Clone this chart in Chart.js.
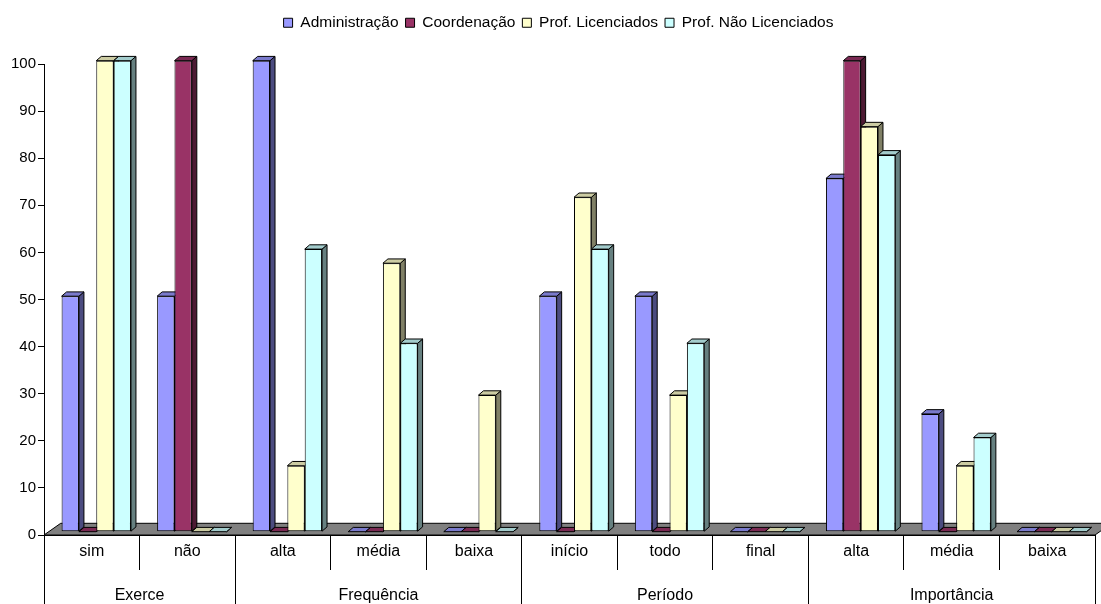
<!DOCTYPE html>
<html>
<head>
<meta charset="utf-8">
<script src="https://cdn.jsdelivr.net/npm/chart.js@4.4.1/dist/chart.umd.min.js"></script>
<style>
  html, body { margin: 0; padding: 0; background: #fff; }
  #wrap { width: 1101px; height: 604px; position: relative; }
</style>
</head>
<body>
<div id="wrap"><canvas id="chart"></canvas></div>
<script>
// Survey answers (%) per category, one array per respondent group
const categories = ['sim', 'não', 'alta', 'média', 'baixa', 'início', 'todo', 'final', 'alta', 'média', 'baixa'];
const groupNames = ['Exerce', 'Frequência', 'Período', 'Importância'];
const groupSizes = [2, 3, 3, 3];
const seriesNames = ['Administração', 'Coordenação', 'Prof. Licenciados', 'Prof. Não Licenciados'];
const administracao = [50, 50, 100, 0, 0, 50, 50, 0, 75, 25, 0];
const coordenacao   = [0, 100, 0, 0, 0, 0, 0, 0, 100, 0, 0];
const licenciados   = [100, 0, 14, 57, 29, 71, 29, 0, 86, 14, 0];
const naoLicenciados = [100, 0, 60, 40, 0, 60, 40, 0, 80, 20, 0];
const yMin = 0, yMax = 100, yStep = 10;

// Colours: front face, top face, side face
const frontColors = ['#9999FF', '#993366', '#FFFFCC', '#CCFFFF'];
const topColors   = ['#7A7ACC', '#7A2952', '#CCCCA3', '#A3CCCC'];
const sideColors  = ['#4C4C80', '#4D1A33', '#808066', '#668080'];

// Group boundaries and centres along the category axis
const groupBounds = [0];
groupSizes.forEach(n => groupBounds.push(groupBounds[groupBounds.length - 1] + n));
const groupCenters = groupSizes.map((n, i) => groupBounds[i] + n / 2);

// Pseudo-3D geometry
const FLOOR_DX = 16.7, FLOOR_DY = -11.7;    // depth of the floor
const BAR_SHIFT_X = 4.5, BAR_SHIFT_Y = -3.3; // columns sit a little back on the floor
const DEPTH_DX = 5, DEPTH_DY = -4.3;        // depth of each column
const LEGEND_SHIFT_X = 11, LEGEND_SHIFT_Y = 8;

function poly(ctx, pts, fill) {
  ctx.beginPath();
  ctx.moveTo(pts[0][0], pts[0][1]);
  for (let k = 1; k < pts.length; k++) ctx.lineTo(pts[k][0], pts[k][1]);
  ctx.closePath();
  ctx.fillStyle = fill;
  ctx.fill();
  ctx.stroke();
}

const depth3d = {
  id: 'depth3d',
  beforeInit(chart) {
    const fit = chart.legend.fit;
    chart.legend.fit = function () { fit.call(this); this.height = 64; };
  },
  afterLayout(chart) {
    const lg = chart.legend;
    lg.left += LEGEND_SHIFT_X; lg.right += LEGEND_SHIFT_X;
    lg.top += LEGEND_SHIFT_Y; lg.bottom += LEGEND_SHIFT_Y;
  },
  beforeDatasetsDraw(chart) {
    const { ctx } = chart;
    const xs = chart.scales.x, ys = chart.scales.y;
    const y0 = ys.getPixelForValue(0);
    ctx.save();
    ctx.strokeStyle = '#000';
    ctx.lineWidth = 1;
    poly(ctx, [[xs.left, y0], [xs.right, y0], [xs.right + FLOOR_DX, y0 + FLOOR_DY], [xs.left + FLOOR_DX, y0 + FLOOR_DY]], '#808080');
    ctx.restore();

    ctx.save();
    ctx.translate(BAR_SHIFT_X, BAR_SHIFT_Y);
    ctx.strokeStyle = '#000';
    ctx.lineWidth = 1;
    const metas = chart.data.datasets.map((d, i) => chart.getDatasetMeta(i));
    for (let j = 0; j < categories.length; j++) {
      metas.forEach((meta, i) => {
        const bar = meta.data[j];
        if (!bar) return;
        const p = bar.getProps(['x', 'y', 'base', 'width'], true);
        const l = p.x - p.width / 2, r = p.x + p.width / 2;
        const top = Math.min(p.y, p.base), base = Math.max(p.y, p.base);
        poly(ctx, [[r, top], [r + DEPTH_DX, top + DEPTH_DY], [r + DEPTH_DX, base + DEPTH_DY], [r, base]], sideColors[i]);
        poly(ctx, [[l, top], [l + DEPTH_DX, top + DEPTH_DY], [r + DEPTH_DX, top + DEPTH_DY], [r, top]], topColors[i]);
      });
    }
    // the translation stays active while the library draws the front faces
  },
  afterDatasetsDraw(chart) {
    chart.ctx.restore();
  }
};

const seriesData = [administracao, coordenacao, licenciados, naoLicenciados];
const family = "'Liberation Sans', Arial, sans-serif";
const fontLegend = { family, size: 15.5 };
const fontTicks = { family, size: 15 };
const fontCats = { family, size: 16 };

Chart.defaults.color = '#000';
Chart.defaults.font.family = family;

new Chart(document.getElementById('chart'), {
  type: 'bar',
  data: {
    labels: categories,
    datasets: seriesNames.map((name, i) => ({
      label: name,
      data: seriesData[i],
      backgroundColor: frontColors[i],
      borderColor: '#000',
      borderWidth: 1,
      borderSkipped: false,
      categoryPercentage: 0.726,
      barPercentage: 1.0,
      clip: false,
      xAxisID: 'x',
      yAxisID: 'y'
    }))
  },
  options: {
    responsive: true,
    maintainAspectRatio: false,
    animation: false,
    layout: { padding: { left: 0, right: 6, top: 0, bottom: 0 } },
    plugins: {
      legend: {
        position: 'top',
        labels: { boxWidth: 9, boxHeight: 9, padding: 7, font: fontLegend, color: '#000' }
      },
      tooltip: { enabled: false }
    },
    scales: {
      x: {
        type: 'category',
        position: 'bottom',
        grid: { offset: true, drawOnChartArea: false, drawTicks: true, tickLength: 35, color: '#000', lineWidth: 1 },
        border: { display: true, color: '#000', width: 1 },
        ticks: { font: fontCats, color: '#000', padding: -28, autoSkip: false, maxRotation: 0, minRotation: 0 },
        afterFit(scale) { scale.height = 35; }
      },
      x2: {
        type: 'linear',
        position: 'bottom',
        offset: false,
        min: 0,
        max: categories.length,
        afterBuildTicks(scale) {
          const vals = [...groupBounds, ...groupCenters].sort((a, b) => a - b);
          scale.ticks = vals.map(v => ({ value: v }));
        },
        grid: {
          offset: false,
          drawOnChartArea: false,
          drawTicks: true,
          tickLength: 34,
          lineWidth: 1,
          color: (c) => (c.tick && groupBounds.includes(c.tick.value)) ? '#000' : 'rgba(0,0,0,0)'
        },
        border: { display: false },
        ticks: {
          font: fontCats,
          color: '#000',
          padding: -18,
          autoSkip: false,
          maxRotation: 0,
          minRotation: 0,
          callback: (v) => {
            const g = groupCenters.indexOf(v);
            return g >= 0 ? groupNames[g] : '';
          }
        },
        afterFit(scale) { scale.height = 34; }
      },
      y: {
        type: 'linear',
        min: yMin,
        max: yMax,
        ticks: { stepSize: yStep, font: fontTicks, color: '#000', padding: 2 },
        grid: { drawOnChartArea: false, drawTicks: true, tickLength: 6, color: '#000' },
        border: { display: true, color: '#000', width: 1 },
        afterFit(scale) { scale.width = 44; }
      }
    }
  },
  plugins: [depth3d]
});
</script>
</body>
</html>
